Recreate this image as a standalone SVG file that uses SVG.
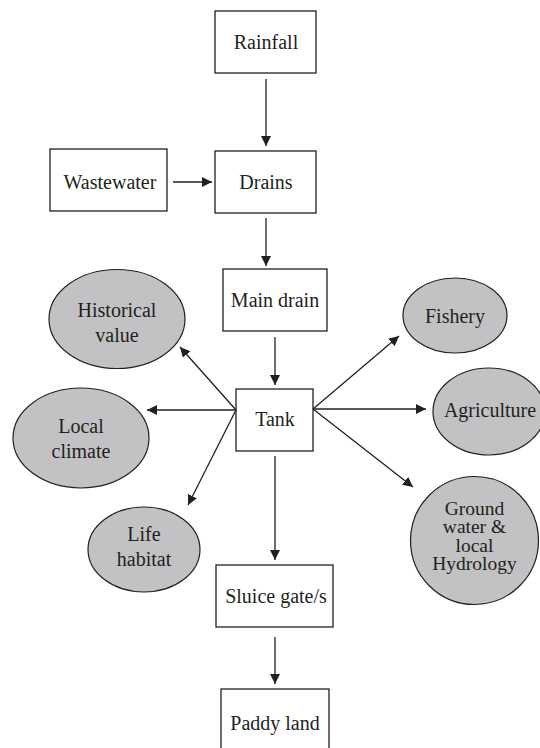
<svg xmlns="http://www.w3.org/2000/svg" width="540" height="748" viewBox="0 0 540 748" font-family="Liberation Serif, serif" font-size="20">
<style>
.box{fill:#fff;stroke:#231f20;stroke-width:1.3}
.oval{fill:#c2c2c4;stroke:#231f20;stroke-width:1.2}
text{fill:#231f20;text-anchor:middle}
.c line{stroke:#231f20;stroke-width:1.3;marker-end:url(#ah)}
</style>
<defs>
<marker id="ah" markerUnits="userSpaceOnUse" markerWidth="12" markerHeight="12" refX="10" refY="5" orient="auto">
<path d="M0,0 L10,5 L0,10 Z" fill="#231f20"/>
</marker>
</defs>
<rect width="540" height="748" fill="#fff"/>
<g id="rainfall"><rect class="box" x="215" y="11" width="101" height="62"/><text x="266" y="49">Rainfall</text></g>
<g id="wastewater"><rect class="box" x="50" y="149" width="117" height="62"/><text x="110" y="189">Wastewater</text></g>
<g id="drains"><rect class="box" x="215" y="151" width="101" height="62"/><text x="266" y="189">Drains</text></g>
<g id="maindrain"><rect class="box" x="223" y="269" width="104" height="62"/><text x="275" y="307">Main drain</text></g>
<g id="tank"><rect class="box" x="236" y="389" width="77" height="62"/><text x="275" y="426">Tank</text></g>
<g id="sluice"><rect class="box" x="216" y="565" width="117" height="62"/><text x="276" y="603">Sluice gate/s</text></g>
<g id="paddy"><rect class="box" x="221" y="689" width="108" height="62"/><text x="275" y="730">Paddy land</text></g>
<g id="historical"><ellipse class="oval" cx="117" cy="319" rx="68" ry="49.5"/><text x="117" y="317">Historical</text><text x="117" y="342">value</text></g>
<g id="climate"><ellipse class="oval" cx="81" cy="438" rx="68" ry="50"/><text x="81" y="433">Local</text><text x="81" y="458">climate</text></g>
<g id="habitat"><ellipse class="oval" cx="144" cy="549.5" rx="56" ry="42.5"/><text x="144" y="541">Life</text><text x="144" y="566">habitat</text></g>
<g id="fishery"><ellipse class="oval" cx="455" cy="315.5" rx="52" ry="37.5"/><text x="455" y="323">Fishery</text></g>
<g id="agriculture"><ellipse class="oval" cx="489" cy="411.5" rx="56" ry="43.5"/><text x="490" y="417">Agriculture</text></g>
<g id="groundwater" font-size="19.5"><circle class="oval" cx="474.5" cy="540.5" r="64"/><text x="474.5" y="515">Ground</text><text x="474.5" y="533">water &amp;</text><text x="474.5" y="552">local</text><text x="474.5" y="570">Hydrology</text></g>
<g id="connectors" class="c">
<line x1="266" y1="79" x2="266" y2="146"/>
<line x1="173" y1="182" x2="212" y2="182"/>
<line x1="266" y1="218" x2="266" y2="266"/>
<line x1="275" y1="337" x2="275" y2="385"/>
<line x1="236" y1="410" x2="180" y2="347"/>
<line x1="236" y1="410" x2="147" y2="410"/>
<line x1="236" y1="410" x2="188" y2="505"/>
<line x1="313" y1="409" x2="399" y2="336"/>
<line x1="313" y1="409" x2="426" y2="409"/>
<line x1="313" y1="409" x2="413" y2="487"/>
<line x1="275" y1="456" x2="275" y2="560"/>
<line x1="275" y1="637" x2="275" y2="684"/>
</g>
</svg>
